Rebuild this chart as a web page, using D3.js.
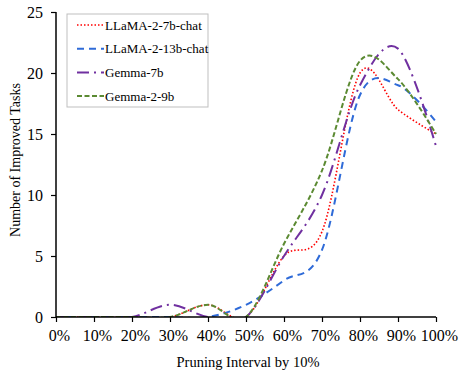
<!DOCTYPE html>
<html>
<head>
<meta charset="utf-8">
<script src="https://cdn.jsdelivr.net/npm/d3@7"></script>
<style>
  body { margin: 0; background: #fff; }
  text { font-family: "Liberation Serif", "Times New Roman", serif; }
</style>
</head>
<body>
<div id="chart"></div>
<script>
// pruning intervals (x axis)
var intervals = [0, 10, 20, 30, 40, 50, 60, 70, 80, 90, 100];
var yTicks = [0, 5, 10, 15, 20, 25];

var llama7b = [0, 0, 0, 0, 1, 0, 5, 7, 20, 17, 15];
var llama13b = [0, 0, 0, 0, 0, 1, 3, 5.5, 18.2, 19, 16];
var gemma7b = [0, 0, 0, 1, 0, 0, 5, 10, 19, 22, 14];
var gemma2 = [0, 0, 0, 0, 1, 0, 6, 12, 21, 19.5, 15];

var seriesNames = ["LLaMA-2-7b-chat", "LLaMA-2-13b-chat", "Gemma-7b", "Gemma-2-9b"];

var series = [
  { name: seriesNames[0], values: llama7b, color: "#ff0000", dash: "1.5,2", width: 1.6 },
  { name: seriesNames[1], values: llama13b, color: "#2f6bd8", dash: "7,5", width: 2 },
  { name: seriesNames[2], values: gemma7b, color: "#7030a0", dash: "12,5,2,5", width: 2 },
  { name: seriesNames[3], values: gemma2, color: "#5b8a32", dash: "5,2.5", width: 2 }
];

var W = 461, H = 370;
var margin = { top: 12, left: 56 },
  width = 436 - margin.left,
  height = 317 - margin.top;

var svg = d3
  .select("#chart")
  .append("svg")
  .attr("width", W)
  .attr("height", H);

var g = svg.append("g")
  .attr("transform", "translate(" + margin.left + "," + margin.top + ")");

var x = d3.scaleLinear().domain([0, 100]).range([0, width]);
var y = d3.scaleLinear().domain([0, 25]).range([height, 0]);

// clip so smoothed curves don't dip under the axis
g.append("clipPath").attr("id", "clip")
  .append("rect").attr("x", 0).attr("y", -5).attr("width", width + 5).attr("height", height + 5);

var line = d3.line()
  .x(function (d, i) { return x(intervals[i]); })
  .y(function (d) { return y(d); })
  .curve(d3.curveCardinal.tension(0));

g.selectAll(".series")
  .data(series)
  .enter()
  .append("path")
  .attr("class", "series")
  .attr("clip-path", "url(#clip)")
  .attr("fill", "none")
  .attr("stroke", function (d) { return d.color; })
  .attr("stroke-width", function (d) { return d.width; })
  .attr("stroke-dasharray", function (d) { return d.dash; })
  .attr("d", function (d) { return line(d.values); });

// axes
var xAxis = g.append("g")
  .attr("transform", "translate(0," + height + ")")
  .call(d3.axisBottom(x).tickValues(intervals).tickSize(5).tickPadding(8)
    .tickFormat(function (d) { return d + "%"; }));

var yAxis = g.append("g")
  .call(d3.axisLeft(y).tickValues(yTicks).tickSize(5).tickPadding(8));

[xAxis, yAxis].forEach(function (a) {
  a.select(".domain").attr("stroke", "#000").attr("stroke-width", 1.5);
  a.selectAll(".tick line").attr("stroke", "#000").attr("stroke-width", 1.2);
  a.selectAll(".tick text")
    .attr("fill", "#000")
    .style("font-family", '"Liberation Serif", serif')
    .style("font-size", "16px");
});
xAxis.selectAll(".tick text").attr("dx", 3);
xAxis.select(".domain").attr("d", "M0,0H" + width);
yAxis.select(".domain").attr("d", "M0," + height + "V0");

// axis titles
svg.append("text")
  .attr("x", 248)
  .attr("y", 367)
  .attr("text-anchor", "middle")
  .style("font-size", "14.5px")
  .text("Pruning Interval by 10%");

svg.append("text")
  .attr("transform", "translate(20,160) rotate(-90)")
  .attr("text-anchor", "middle")
  .style("font-size", "14px")
  .text("Number of Improved Tasks");

// legend
var legend = svg.append("g").attr("transform", "translate(67,14)");
legend.append("rect")
  .attr("width", 141).attr("height", 93)
  .attr("fill", "#fff").attr("stroke", "#bfbfbf").attr("stroke-width", 1);

var items = legend.selectAll(".item")
  .data(series)
  .enter()
  .append("g")
  .attr("class", "item")
  .attr("transform", function (d, i) { return "translate(0," + (11 + i * 23.7) + ")"; });

items.append("line")
  .attr("x1", 10).attr("x2", 37)
  .attr("stroke", function (d) { return d.color; })
  .attr("stroke-width", function (d) { return d.width; })
  .attr("stroke-dasharray", function (d) { return d.dash; });

items.append("text")
  .attr("x", 38)
  .attr("y", 4.5)
  .style("font-size", "13px")
  .text(function (d) { return d.name; });
</script>
</body>
</html>
